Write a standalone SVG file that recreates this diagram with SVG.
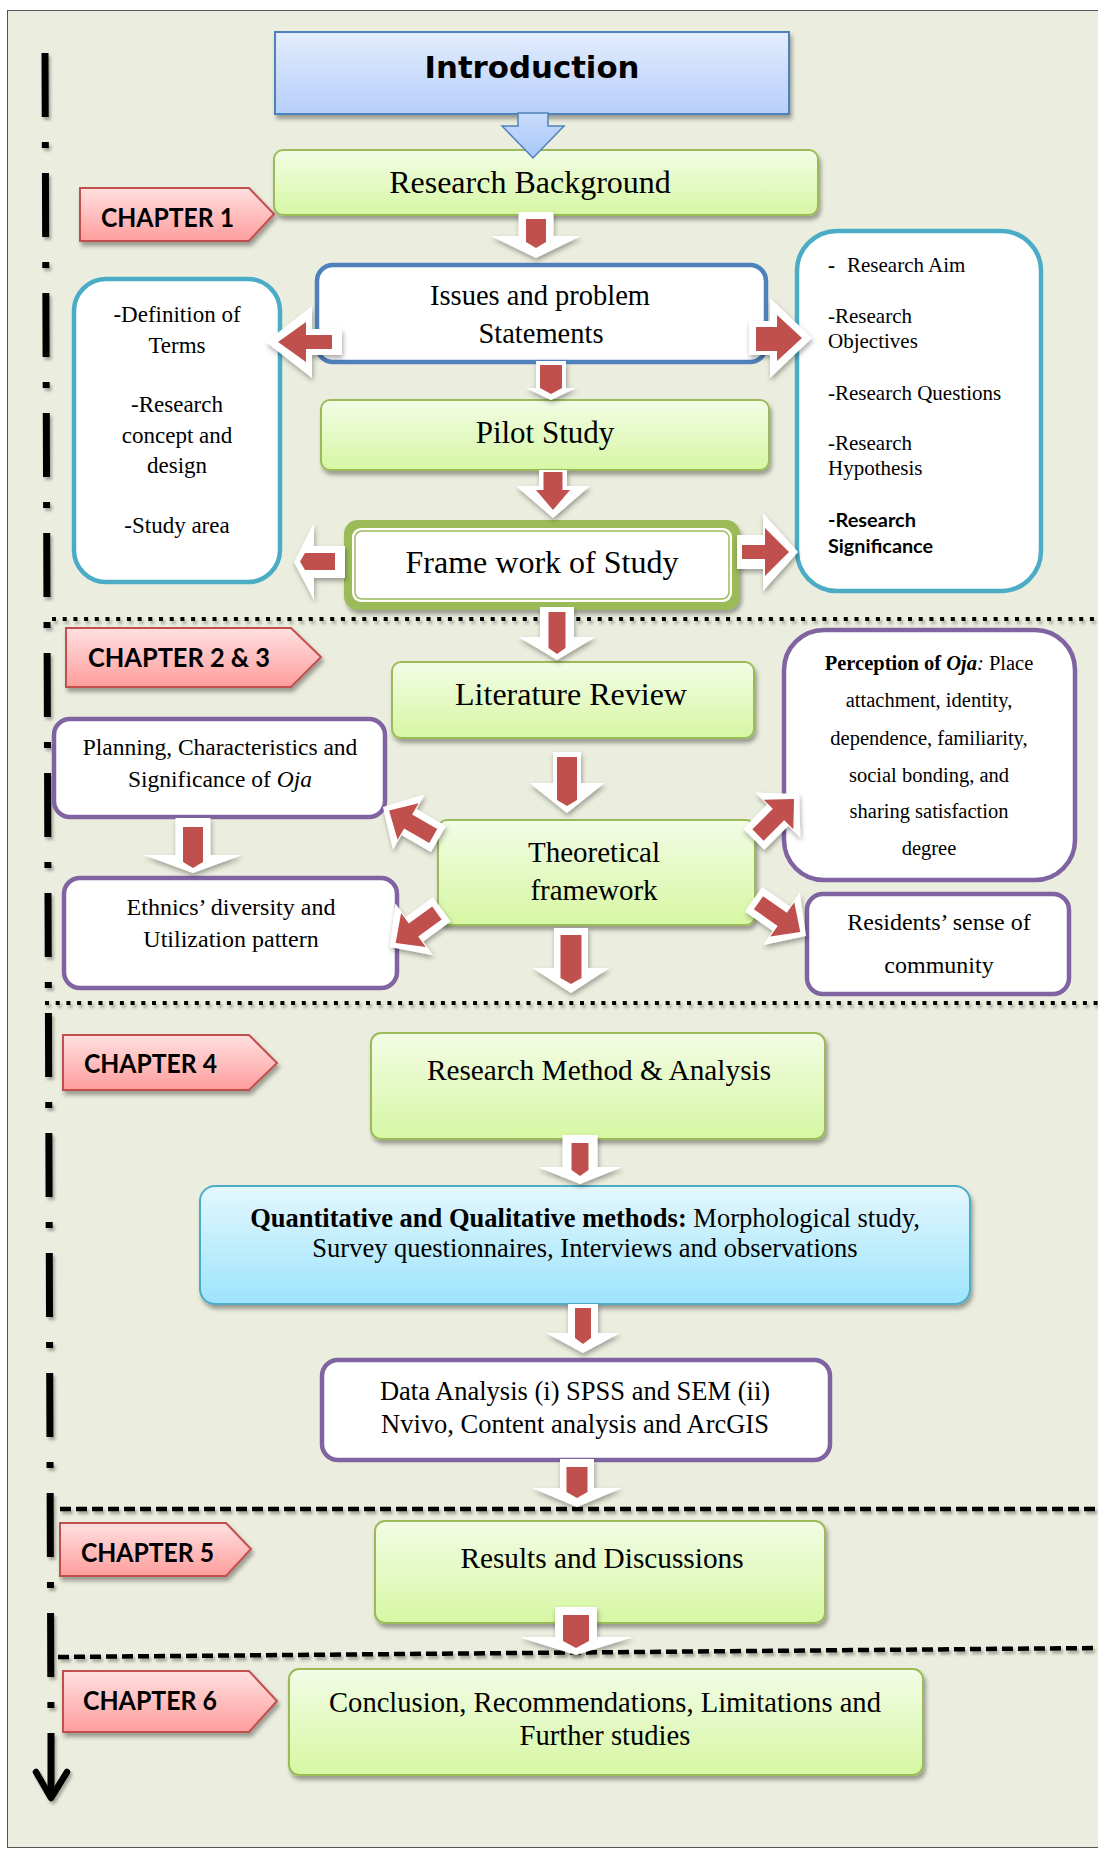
<svg xmlns="http://www.w3.org/2000/svg" width="1098" height="1850" viewBox="0 0 1098 1850">
<defs>
<linearGradient id="gGreen" x1="0" y1="0" x2="0" y2="1"><stop offset="0" stop-color="#F3FCE6"/><stop offset="1" stop-color="#D6F7A3"/></linearGradient>
<linearGradient id="gPink" x1="0" y1="0" x2="0" y2="1"><stop offset="0" stop-color="#FFE0E0"/><stop offset="1" stop-color="#FF9D9D"/></linearGradient>
<linearGradient id="gBlue" x1="0" y1="0" x2="0" y2="1"><stop offset="0" stop-color="#E3EDFD"/><stop offset="1" stop-color="#B6CEFA"/></linearGradient>
<linearGradient id="gBlueArrow" x1="0" y1="0" x2="0" y2="1"><stop offset="0" stop-color="#C9DCFB"/><stop offset="1" stop-color="#A7C7F8"/></linearGradient>
<linearGradient id="gCyan" x1="0" y1="0" x2="0" y2="1"><stop offset="0" stop-color="#E4F7FE"/><stop offset="1" stop-color="#9DE4FB"/></linearGradient>
<filter id="sh" x="-10%" y="-10%" width="125%" height="140%"><feDropShadow dx="2" dy="4" stdDeviation="2" flood-color="#000" flood-opacity="0.35"/></filter>
<filter id="ash" x="-30%" y="-30%" width="160%" height="160%"><feDropShadow dx="1" dy="3" stdDeviation="2.5" flood-color="#000" flood-opacity="0.35"/></filter>
<filter id="lsh" x="-5%" y="-50%" width="110%" height="300%"><feDropShadow dx="2" dy="3" stdDeviation="1.5" flood-color="#000" flood-opacity="0.3"/></filter>
<path id="diagW" d="M0,0 L-30,-32 L-30,-15 L-64,-15 L-64,15 L-30,15 L-30,32 Z"/>
<path id="diagR" d="M-7,0 L-29,-21 L-29,-8 L-58,-8 L-58,8 L-29,8 L-29,21 Z"/>
</defs>
<style>
.t { font-family: "Liberation Serif", "Times New Roman", serif; fill: #000; }
.ch { font-family: Lato, "Open Sans", sans-serif; font-weight: 700; font-size: 26px; fill: #000; }
.green { fill: url(#gGreen); stroke: #9BBB59; stroke-width: 2; }
.pink { fill: url(#gPink); stroke: #C0504D; stroke-width: 2; }
.wBlue { fill: #fff; stroke: #4F81BD; stroke-width: 4.5; }
.wTeal { fill: #fff; stroke: #4BACC6; stroke-width: 4.5; }
.wPurp { fill: #fff; stroke: #8064A2; stroke-width: 4.5; }
.aw { fill: #fff; }
.ar { fill: #C0504D; }
.sep { stroke: #000; fill: none; }
</style>

<rect x="0" y="0" width="1098" height="1850" fill="#fff"/>
<rect x="7.5" y="10.5" width="1100" height="1837" fill="#EBEEDE" stroke="#555" stroke-width="1"/>

<!-- timeline and separators -->
<g id="timeline" filter="url(#lsh)">
  <line class="sep" x1="45" y1="53" x2="51" y2="1733" stroke-width="7" stroke-dasharray="64 25 6 25"/>
  <path class="sep" d="M51,1733 V1796" stroke-width="7"/>
  <path class="sep" d="M36,1772 L51,1798 L67,1772" stroke-width="6.5" stroke-linecap="round" stroke-linejoin="round"/>
  <line class="sep" x1="52" y1="619" x2="1098" y2="619" stroke-width="4" stroke-dasharray="4 6.7"/>
  <line class="sep" x1="45" y1="1003" x2="1098" y2="1003" stroke-width="4" stroke-dasharray="4 6.7"/>
  <line class="sep" x1="60" y1="1509" x2="1098" y2="1509" stroke-width="4.5" stroke-dasharray="11 5"/>
  <line class="sep" x1="58" y1="1657" x2="1098" y2="1648" stroke-width="4.5" stroke-dasharray="11 5"/>
</g>

<!-- chapter tags -->
<g id="chapter1"><path class="pink" filter="url(#sh)" d="M80,188 H249 L274,214 L249,241 H80 Z"/><text class="ch" x="101" y="227" textLength="133" lengthAdjust="spacingAndGlyphs">CHAPTER 1</text></g>
<g id="chapter2-3"><path class="pink" filter="url(#sh)" d="M66,628 H291 L321,657 L291,687 H66 Z"/><text class="ch" x="88" y="667" textLength="182" lengthAdjust="spacingAndGlyphs">CHAPTER 2 &amp; 3</text></g>
<g id="chapter4"><path class="pink" filter="url(#sh)" d="M63,1035 H249 L277,1063 L249,1090 H63 Z"/><text class="ch" x="84" y="1073" textLength="133" lengthAdjust="spacingAndGlyphs">CHAPTER 4</text></g>
<g id="chapter5"><path class="pink" filter="url(#sh)" d="M60,1523 H226 L251,1549 L226,1576 H60 Z"/><text class="ch" x="81" y="1562" textLength="133" lengthAdjust="spacingAndGlyphs">CHAPTER 5</text></g>
<g id="chapter6"><path class="pink" filter="url(#sh)" d="M63,1671 H249 L277,1701 L249,1732 H63 Z"/><text class="ch" x="83" y="1710" textLength="134" lengthAdjust="spacingAndGlyphs">CHAPTER 6</text></g>

<!-- nodes -->
<g id="introduction"><rect x="275" y="32" width="514" height="82" fill="url(#gBlue)" stroke="#4F81BD" stroke-width="2" filter="url(#sh)"/><text x="532" y="78" text-anchor="middle" font-family="'DejaVu Sans', sans-serif" font-weight="bold" font-size="31" textLength="215" lengthAdjust="spacingAndGlyphs">Introduction</text></g>
<g id="research-background"><rect class="green" x="274" y="150" width="544" height="65" rx="9" filter="url(#sh)"/><text class="t" x="530" y="193" text-anchor="middle" font-size="32">Research Background</text></g>
<g id="issues"><rect class="wBlue" x="317" y="265" width="449" height="97" rx="16"/><text class="t" x="540" y="305" text-anchor="middle" font-size="28.5">Issues and problem</text><text class="t" x="541" y="343" text-anchor="middle" font-size="28.5">Statements</text></g>
<g id="definitions"><rect class="wTeal" x="74" y="279" width="206" height="303" rx="32"/>
  <g class="t" font-size="23" text-anchor="middle"><text x="177" y="322">-Definition of</text><text x="177" y="353">Terms</text><text x="177" y="412">-Research</text><text x="177" y="443">concept and</text><text x="177" y="473">design</text><text x="177" y="533">-Study area</text></g></g>
<g id="research-aims"><rect class="wTeal" x="797" y="231" width="244" height="360" rx="40"/>
  <g class="t" font-size="21"><text x="828" y="272"><tspan font-weight="bold">-</tspan><tspan x="847">Research Aim</tspan></text><text x="828" y="323">-Research</text><text x="828" y="348">Objectives</text><text x="828" y="400">-Research Questions</text><text x="828" y="450">-Research</text><text x="828" y="475">Hypothesis</text></g>
  <g font-family="Lato, 'Open Sans', sans-serif" font-weight="700" font-size="19"><text x="828" y="527" textLength="88" lengthAdjust="spacingAndGlyphs">-Research</text><text x="828" y="553" textLength="105" lengthAdjust="spacingAndGlyphs">Significance</text></g></g>
<g id="pilot-study"><rect class="green" x="321" y="400" width="448" height="70" rx="9" filter="url(#sh)"/><text class="t" x="545" y="443" text-anchor="middle" font-size="31">Pilot Study</text></g>
<g id="framework-of-study"><rect x="344" y="520" width="396" height="90" rx="14" fill="#9BBB59" filter="url(#sh)"/><rect x="352" y="528" width="380" height="74" rx="9" fill="#fff"/><rect x="355" y="531" width="374" height="68" rx="7" fill="#fff" stroke="#9BBB59" stroke-width="1.5"/><text class="t" x="542" y="573" text-anchor="middle" font-size="32">Frame work of Study</text></g>
<g id="literature-review"><rect class="green" x="392" y="662" width="362" height="76" rx="9" filter="url(#sh)"/><text class="t" x="571" y="705" text-anchor="middle" font-size="32">Literature Review</text></g>
<g id="planning"><rect class="wPurp" x="54" y="719" width="331" height="98" rx="16"/><text class="t" x="220" y="755" text-anchor="middle" font-size="23.5">Planning, Characteristics and</text><text class="t" x="220" y="787" text-anchor="middle" font-size="23.5">Significance of <tspan font-style="italic">Oja</tspan></text></g>
<g id="perception"><rect class="wPurp" x="784" y="630" width="291" height="250" rx="40"/>
  <g class="t" font-size="20.5" text-anchor="middle"><text x="929" y="670"><tspan font-weight="bold">Perception of </tspan><tspan font-weight="bold" font-style="italic">Oja</tspan><tspan font-style="italic">:</tspan> Place</text><text x="929" y="707">attachment, identity,</text><text x="929" y="745">dependence, familiarity,</text><text x="929" y="782">social bonding, and</text><text x="929" y="818">sharing satisfaction</text><text x="929" y="855">degree</text></g></g>
<g id="theoretical-framework"><rect class="green" x="438" y="820" width="317" height="105" rx="9" filter="url(#sh)"/><text class="t" x="594" y="862" text-anchor="middle" font-size="29">Theoretical</text><text class="t" x="594" y="900" text-anchor="middle" font-size="29">framework</text></g>
<g id="ethnics"><rect class="wPurp" x="64" y="878" width="333" height="110" rx="16"/><text class="t" x="231" y="915" text-anchor="middle" font-size="24">Ethnics’ diversity and</text><text class="t" x="231" y="947" text-anchor="middle" font-size="24">Utilization pattern</text></g>
<g id="residents"><rect class="wPurp" x="807" y="894" width="262" height="100" rx="16"/><text class="t" x="939" y="930" text-anchor="middle" font-size="24">Residents’ sense of</text><text class="t" x="939" y="973" text-anchor="middle" font-size="24">community</text></g>
<g id="research-method"><rect class="green" x="371" y="1033" width="454" height="106" rx="10" filter="url(#sh)"/><text class="t" x="599" y="1080" text-anchor="middle" font-size="29.3">Research Method &amp; Analysis</text></g>
<g id="methods"><rect x="200" y="1186" width="770" height="118" rx="15" fill="url(#gCyan)" stroke="#4BACC6" stroke-width="2" filter="url(#sh)"/><text class="t" x="585" y="1227" text-anchor="middle" font-size="26.5"><tspan font-weight="bold">Quantitative and Qualitative methods:</tspan> Morphological study,</text><text class="t" x="585" y="1257" text-anchor="middle" font-size="26.5">Survey questionnaires, Interviews and observations</text></g>
<g id="data-analysis"><rect class="wPurp" x="322" y="1360" width="508" height="100" rx="16"/><text class="t" x="575" y="1400" text-anchor="middle" font-size="26.5">Data Analysis (i) SPSS and SEM (ii)</text><text class="t" x="575" y="1433" text-anchor="middle" font-size="26.5">Nvivo, Content analysis and ArcGIS</text></g>
<g id="results"><rect class="green" x="375" y="1521" width="450" height="102" rx="10" filter="url(#sh)"/><text class="t" x="602" y="1568" text-anchor="middle" font-size="29.3">Results and Discussions</text></g>
<g id="conclusion"><rect class="green" x="289" y="1669" width="634" height="106" rx="10" filter="url(#sh)"/><text class="t" x="605" y="1712" text-anchor="middle" font-size="28.6">Conclusion, Recommendations, Limitations and</text><text class="t" x="605" y="1745" text-anchor="middle" font-size="28.6">Further studies</text></g>

<!-- connectors -->
<g id="connectors">
  <path d="M518,113 H548 V126 H564 L533,158 L502,126 H518 Z" fill="url(#gBlueArrow)" stroke="#4F81BD" stroke-width="1.5"/>
  <g filter="url(#ash)">
    <path class="aw" d="M518.5,212 H553.5 V236 H581 L536,258 L491,236 H518.5 Z"/>
    <path class="aw" d="M536,361 H566 V388 H576 L551,400 L526,388 H536 Z"/>
    <path class="aw" d="M539,470 H567 V486 H590 L553,518 L516,486 H539 Z"/>
    <path class="aw" d="M540,607 H574 V637 H595.5 L557,660 L518.5,637 H540 Z"/>
    <path class="aw" d="M553,752 H581 V783 H604.5 L567,813 L529.5,783 H553 Z"/>
    <path class="aw" d="M175.5,818 H210.5 V855 H242 L193,873 L144,855 H175.5 Z"/>
    <path class="aw" d="M554,928 H588 V968 H609.5 L571,993 L532.5,968 H554 Z"/>
    <path class="aw" d="M562.5,1135 H597.5 V1167 H622.5 L580,1184 L537.5,1167 H562.5 Z"/>
    <path class="aw" d="M568,1304 H598 V1333 H620 L583,1353 L546,1333 H568 Z"/>
    <path class="aw" d="M560,1459 H594 V1488 H622 L577,1507 L532,1488 H560 Z"/>
    <path class="aw" d="M555,1607 H597 V1637 H633 L576,1655 L519,1637 H555 Z"/>
    <path class="aw" d="M266,342 L312,306 V329 H342 V355 H312 V378 Z"/>
    <path class="aw" d="M812,338 L770,298 V321 H749 V355 H770 V378 Z"/>
    <path class="aw" d="M294,562 L314,523 V546 H345 V578 H314 V600 Z"/>
    <path class="aw" d="M737,535 H763 V513 L798,552 L763,591 V569 H737 Z"/>
    <use href="#diagW" fill="#fff" transform="translate(383,807) rotate(210)"/>
    <use href="#diagW" fill="#fff" transform="translate(390,947) rotate(144)"/>
    <use href="#diagW" fill="#fff" transform="translate(799,794) rotate(-45)"/>
    <use href="#diagW" fill="#fff" transform="translate(806,936) rotate(35)"/>
  </g>
  <path class="ar" d="M526,219 H546 V242 L536,248 L526,242 Z"/>
  <path class="ar" d="M540,365 H562 V388 L551,394 L540,388 Z"/>
  <path class="ar" d="M543.5,472 H562.5 V490 H570 L553,510 L536,490 H543.5 Z"/>
  <path class="ar" d="M548.5,612 H565.5 V648 L557,654 L548.5,648 Z"/>
  <path class="ar" d="M557,757 H577 V800 L567,806 L557,800 Z"/>
  <path class="ar" d="M183,827 H203 V862 L193,868 L183,862 Z"/>
  <path class="ar" d="M560.5,935 H581.5 V978 L571,984 L560.5,978 Z"/>
  <path class="ar" d="M571.5,1143 H588.5 V1170 L580,1176 L571.5,1170 Z"/>
  <path class="ar" d="M575,1308 H591 V1338 L583,1344 L575,1338 Z"/>
  <path class="ar" d="M566.5,1467 H587.5 V1492 L577,1498 L566.5,1492 Z"/>
  <path class="ar" d="M563,1615 H589 V1641 L576,1648 L563,1641 Z"/>
  <path class="ar" d="M278,342 L306,322 V335 H332 V349 H306 V362 Z"/>
  <path class="ar" d="M802,338 L777,315 V327 H756 V351 H777 V361 Z"/>
  <path class="ar" d="M300,561.5 L305,553 H335 V570 H305 Z"/>
  <path class="ar" d="M742,545 H765 V528 L789,552 L765,576 V559 H742 Z"/>
  <use href="#diagR" class="ar" transform="translate(383,807) rotate(210)"/>
  <use href="#diagR" class="ar" transform="translate(390,947) rotate(144)"/>
  <use href="#diagR" class="ar" transform="translate(799,794) rotate(-45)"/>
  <use href="#diagR" class="ar" transform="translate(806,936) rotate(35)"/>
</g>
</svg>
